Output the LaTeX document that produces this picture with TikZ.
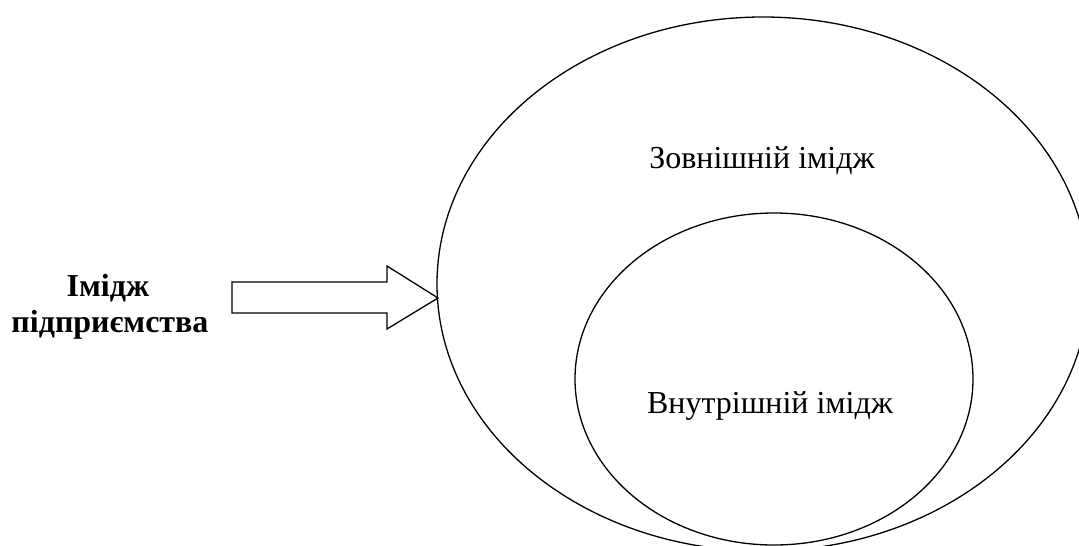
\documentclass[tikz,border=0pt]{standalone}
\usepackage{fontspec}
\setmainfont{Liberation Serif}
\usetikzlibrary{shapes.geometric}
\begin{document}
\begin{tikzpicture}[x=1pt,y=-1pt,
  ring/.style={draw=black, line width=1.3pt, ellipse, inner sep=0pt},
  txt/.style={font=\fontsize{32}{36}\selectfont, anchor=base, inner sep=0pt},
  btxt/.style={font=\bfseries\fontsize{32}{36}\selectfont, anchor=base, inner sep=0pt},
  blockarrow/.style={draw=black, line width=1.3pt, line join=miter, fill=white}]
\useasboundingbox (0,0) rectangle (1079,546);
\clip (0,0) rectangle (1079,546);
\node[ring, minimum width=652pt, minimum height=534pt] (outer) at (763,284) {};
\node[ring, minimum width=398pt, minimum height=332pt] (inner) at (774,379) {};
\node[txt] (ext) at (762,168) {Зовнішній імідж};
\node[txt] (int) at (770,413) {Внутрішній імідж};
\node[btxt] (lab1) at (108,296) {Імідж};
\node[btxt] (lab2) at (110,332) {підприємства};
\coordinate (tail) at (232,298);
\coordinate (tip) at (outer.west);
\draw[blockarrow] (232,282) -- (387,282) -- (387,266) -- (438,298) -- (387,329) -- (387,313) -- (232,313) -- cycle;
\end{tikzpicture}
\end{document}
